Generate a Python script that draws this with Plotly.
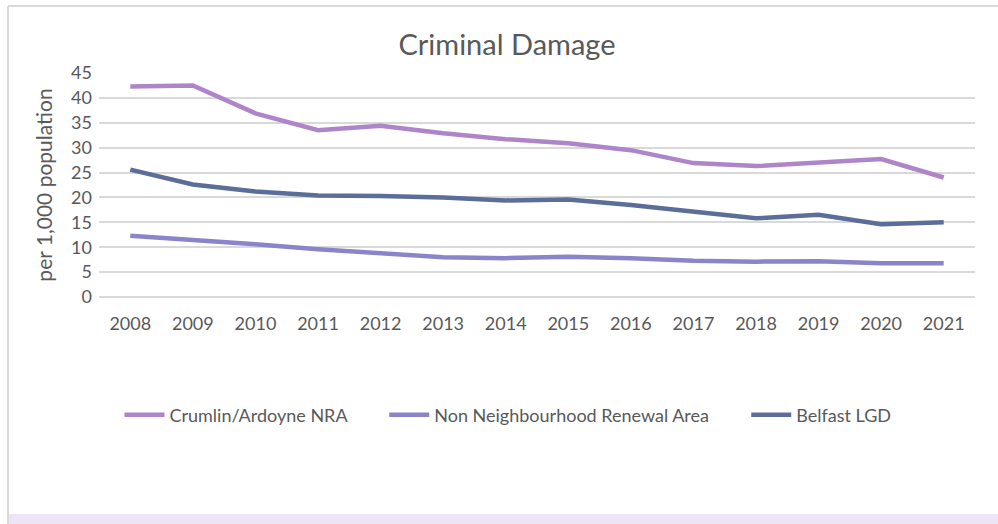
import plotly.graph_objects as go

years = [str(y) for y in range(2008, 2022)]
crumlin = [42.3, 42.5, 36.9, 33.5, 34.4, 32.9, 31.7, 30.9, 29.5, 26.9, 26.3, 27.0, 27.7, 24.0]
non_nra = [12.3, 11.5, 10.6, 9.6, 8.7, 8.0, 7.8, 8.1, 7.8, 7.3, 7.1, 7.2, 6.8, 6.8]
belfast = [25.6, 22.6, 21.2, 20.4, 20.3, 20.0, 19.4, 19.6, 18.5, 17.2, 15.8, 16.5, 14.6, 15.0]

series_names = ["Crumlin/Ardoyne NRA", "Non Neighbourhood Renewal Area", "Belfast LGD"]
colors = ["#AE85C9", "#8A84CA", "#5B6E99"]

FONT = "Lato, 'Open Sans', sans-serif"
TXT = "#595959"
PAD = "\u00a0" * 7

fig = go.Figure()
for i, (name, vals, col) in enumerate(zip(series_names, [crumlin, non_nra, belfast], colors)):
    fig.add_trace(go.Scatter(x=years, y=vals, name=name + (PAD if i < 2 else ""), mode="lines",
                             line=dict(color=col, width=4.5)))

L, R, T, B = 99, 975, 73, 297
W, H = 998, 524
pw, ph = R - L, B - T

def px(xp):
    return (xp - L) / pw

def py(yp):
    return (B - yp) / ph

fig.update_layout(
    width=W, height=H,
    paper_bgcolor="white", plot_bgcolor="white",
    margin=dict(l=L, r=W - R, t=T, b=H - B, autoexpand=False),
    font=dict(family=FONT, color=TXT, size=18),
    title=dict(text="Criminal Damage", xref="container", x=507 / W, xanchor="center",
               yref="container", y=1 - 45 / H, yanchor="middle",
               font=dict(size=29, color=TXT, family=FONT)),
    showlegend=True,
    legend=dict(orientation="h", xref="container", yref="container",
                x=508 / W, xanchor="center", y=1 - 415 / H, yanchor="middle",
                font=dict(size=18, color=TXT, family=FONT),
                itemwidth=40, tracegroupgap=0),
    xaxis=dict(type="category", range=[-0.5, 13.5], showgrid=False, showline=False, ticks="",
               tickfont=dict(size=18, color=TXT), ticklabelstandoff=14),
    yaxis=dict(range=[0, 45], dtick=5, showgrid=True, gridcolor="#D9D9D9", gridwidth=1.5,
               zeroline=True, zerolinecolor="#D9D9D9", zerolinewidth=1.5,
               showline=False, ticks="", tickfont=dict(size=18, color=TXT), ticklabelstandoff=6,
               title=dict(text="per 1,000 population", font=dict(size=21, color=TXT), standoff=12)),
    shapes=[
        dict(type="line", xref="paper", yref="paper", x0=px(8), x1=px(8), y0=py(6), y1=py(524),
             line=dict(color="#D9D9D9", width=2)),
        dict(type="line", xref="paper", yref="paper", x0=px(8), x1=px(998), y0=py(6), y1=py(6),
             line=dict(color="#D9D9D9", width=2)),
        dict(type="rect", xref="paper", yref="paper", x0=px(9), x1=px(998), y0=py(524), y1=py(514),
             line=dict(width=0), fillcolor="rgba(232,222,245,0.8)", layer="below"),
    ],
)

fig.write_html("out.html", config={"displayModeBar": False},
               post_script="document.body.style.margin='0';document.body.style.overflow='hidden';")
